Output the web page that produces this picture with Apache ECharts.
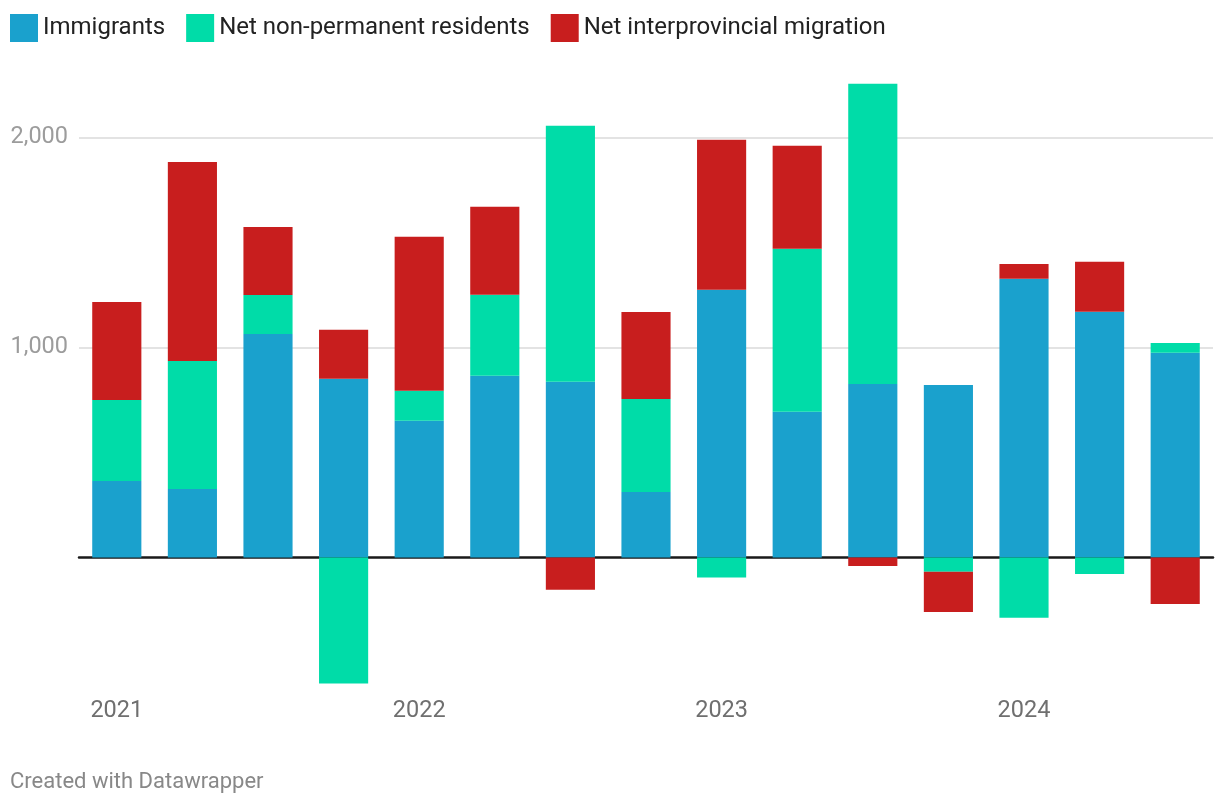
<!DOCTYPE html>
<html>
<head>
<meta charset="utf-8">
<script src="https://cdn.jsdelivr.net/npm/echarts@6/dist/echarts.min.js"></script>
<style>
html,body{margin:0;padding:0;background:#fff;}
#chart{width:1220px;height:808px;}
</style>
</head>
<body>
<div id="chart"></div>
<script>
const quarters = ['2021 Q1','2021 Q2','2021 Q3','2021 Q4','2022 Q1','2022 Q2','2022 Q3','2022 Q4','2023 Q1','2023 Q2','2023 Q3','2023 Q4','2024 Q1','2024 Q2','2024 Q3'];
const immigrants = [364, 326, 1064, 851, 651, 866, 837, 312, 1275, 694, 826, 822, 1327, 1170, 975];
const netNonPermanent = [386, 610, 186, -600, 143, 385, 1219, 443, -95, 776, 1430, -68, -287, -78, 47];
const netInterprovincial = [467, 947, 324, 233, 733, 419, -154, 414, 714, 491, -40, -191, 71, 238, -221];
const yTickLabels = [1000, 2000];
const seriesNames = ['Immigrants', 'Net non-permanent residents', 'Net interprovincial migration'];
const colors = ['#1aa1cd', '#00dca8', '#c81e1e'];

const chart = echarts.init(document.getElementById('chart'), null, {renderer: 'canvas'});
const font = 'Roboto, "Noto Sans", sans-serif';

function barSeries(name, data, color, extra) {
  return Object.assign({
    name: name,
    type: 'bar',
    stack: 'total',
    data: data,
    barCategoryGap: '35%',
    itemStyle: {color: color},
    emphasis: {disabled: true}
  }, extra || {});
}

chart.setOption({
  animation: false,
  color: colors,
  textStyle: {fontFamily: font},
  legend: {
    left: 10,
    top: 14,
    padding: 0,
    icon: 'rect',
    itemWidth: 28,
    itemHeight: 28,
    itemGap: 21,
    selectedMode: false,
    textStyle: {fontSize: 24, color: '#222', fontFamily: font},
    data: seriesNames
  },
  grid: {left: 79, right: 7, top: 74.5, bottom: 124.5, containLabel: false},
  xAxis: {
    type: 'category',
    data: quarters,
    axisTick: {show: false},
    axisLine: {show: true, onZero: true, lineStyle: {color: '#1a1a1a', width: 2.5}},
    axisLabel: {
      interval: 3,
      margin: 16,
      fontSize: 23.5,
      color: '#6f6f6f',
      fontFamily: font,
      formatter: v => v.split(' ')[0]
    }
  },
  yAxis: {
    type: 'value',
    min: -600,
    max: 2300,
    interval: 100,
    axisLine: {show: false},
    axisTick: {show: false},
    splitLine: {show: false},
    axisLabel: {
      margin: 11,
      fontSize: 23.5,
      color: '#9c9c9c',
      fontFamily: font,
      formatter: v => yTickLabels.indexOf(v) >= 0 ? v.toLocaleString('en-US') : ''
    }
  },
  series: [
    barSeries(seriesNames[0], immigrants, colors[0], {
      markLine: {
        silent: true,
        z: 1,
        symbol: 'none',
        label: {show: false},
        lineStyle: {color: '#e3e3e3', type: 'solid', width: 2},
        data: yTickLabels.map(v => ({yAxis: v}))
      }
    }),
    barSeries(seriesNames[1], netNonPermanent, colors[1]),
    barSeries(seriesNames[2], netInterprovincial, colors[2])
  ],
  graphic: [{
    type: 'text',
    left: 10,
    top: 771,
    style: {text: 'Created with Datawrapper', fontSize: 22, fill: '#888', fontFamily: font}
  }]
});
</script>
</body>
</html>
